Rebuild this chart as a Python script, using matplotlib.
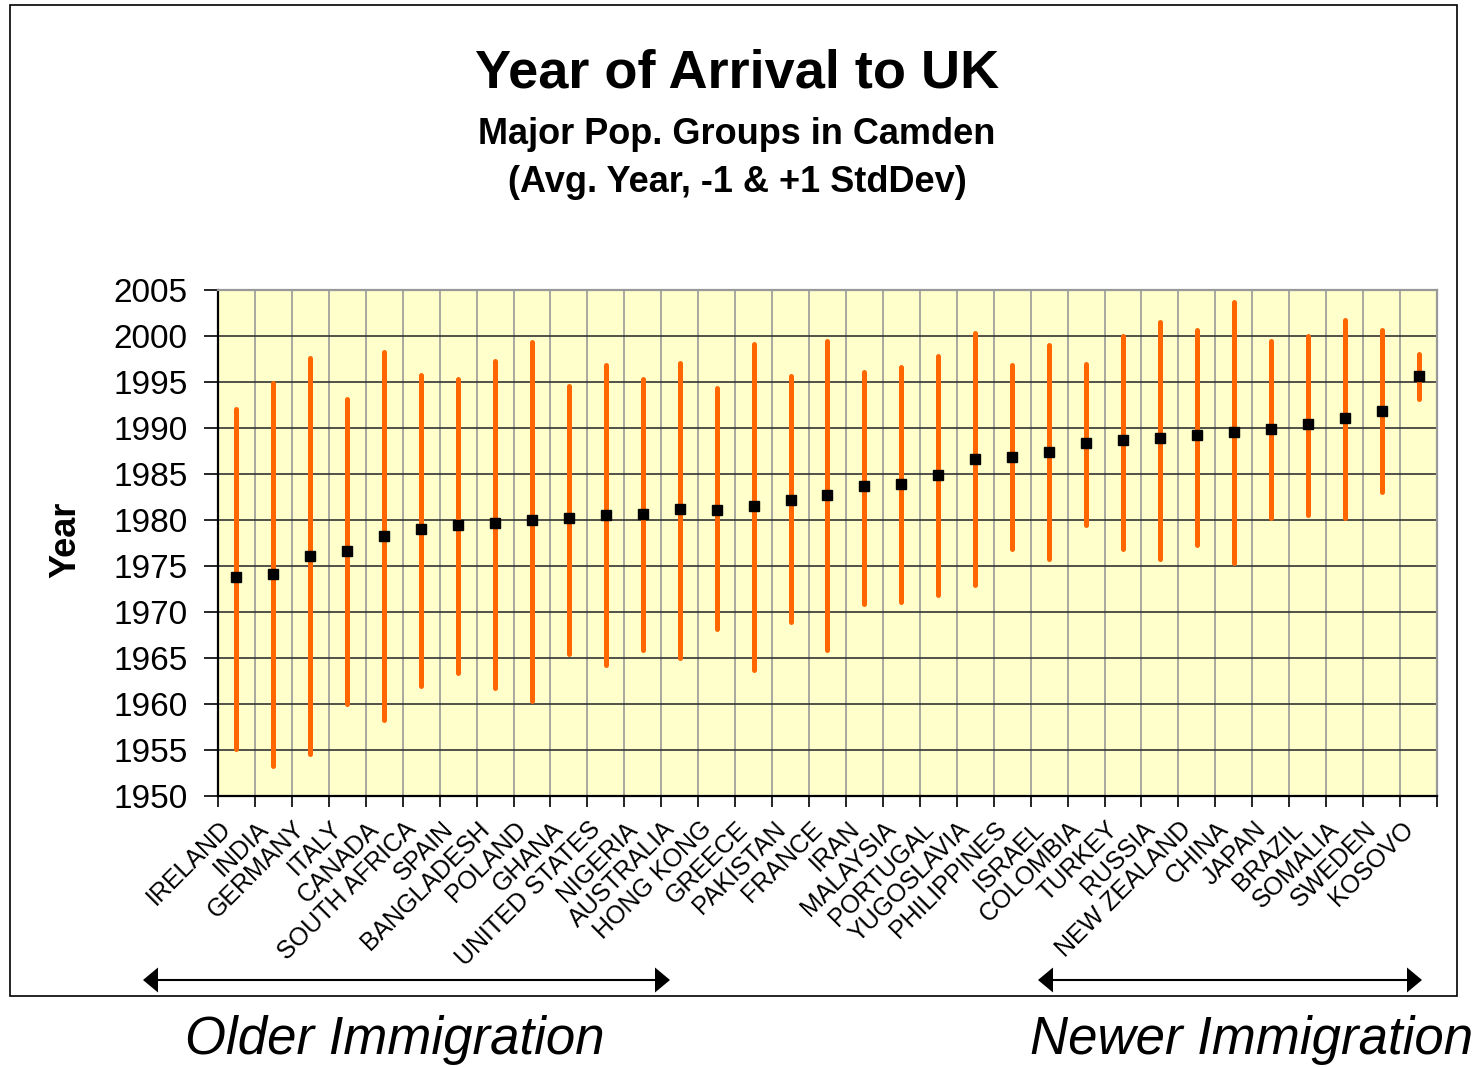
import matplotlib.pyplot as plt
from matplotlib.patches import Rectangle, Polygon
from matplotlib.lines import Line2D
from matplotlib.transforms import ScaledTranslation

plt.rcParams['font.family'] = ['Liberation Sans', 'DejaVu Sans']

countries = ['IRELAND', 'INDIA', 'GERMANY', 'ITALY', 'CANADA', 'SOUTH AFRICA',
             'SPAIN', 'BANGLADESH', 'POLAND', 'GHANA', 'UNITED STATES', 'NIGERIA',
             'AUSTRALIA', 'HONG KONG', 'GREECE', 'PAKISTAN', 'FRANCE', 'IRAN',
             'MALAYSIA', 'PORTUGAL', 'YUGOSLAVIA', 'PHILIPPINES', 'ISRAEL',
             'COLOMBIA', 'TURKEY', 'RUSSIA', 'NEW ZEALAND', 'CHINA', 'JAPAN',
             'BRAZIL', 'SOMALIA', 'SWEDEN', 'KOSOVO']

# average year of arrival
avg_year = [1973.8, 1974.1, 1976.1, 1976.6, 1978.3, 1979.0, 1979.5, 1979.7, 1980.0,
            1980.2, 1980.5, 1980.7, 1981.2, 1981.1, 1981.5, 1982.2, 1982.7, 1983.7,
            1983.9, 1984.9, 1986.6, 1986.9, 1987.4, 1988.4, 1988.7, 1988.9, 1989.2,
            1989.6, 1989.9, 1990.4, 1991.1, 1991.9, 1995.6]

# avg - 1 stddev
low_year = [1955.1, 1953.3, 1954.6, 1960.0, 1958.3, 1962.0, 1963.4, 1961.7, 1960.3,
            1965.4, 1964.2, 1965.9, 1965.0, 1968.2, 1963.7, 1968.9, 1965.9, 1970.9,
            1971.1, 1971.9, 1972.9, 1976.8, 1975.8, 1979.5, 1976.8, 1975.8, 1977.3,
            1975.3, 1980.2, 1980.5, 1980.2, 1983.0, 1993.2]

# avg + 1 stddev
high_year = [1992.1, 1994.9, 1997.6, 1993.1, 1998.3, 1995.8, 1995.3, 1997.3, 1999.3,
             1994.6, 1996.8, 1995.3, 1997.1, 1994.3, 1999.1, 1995.6, 1999.5, 1996.1,
             1996.6, 1997.8, 2000.3, 1996.8, 1999.0, 1997.0, 2000.0, 2001.5, 2000.7,
             2003.7, 1999.5, 2000.0, 2001.7, 2000.7, 1998.0]

W, H = 1479, 1067
fig = plt.figure(figsize=(W / 100, H / 100), dpi=100)
fig.patch.set_facecolor('white')


def fx(px):
    return px / W


def fy(py):
    return 1 - py / H


ax = fig.add_axes([fx(218), fy(796), (1437 - 218) / W, (796 - 290) / H])
ax.set_facecolor('#FFFFCC')

x = list(range(len(countries)))
ax.vlines(x, low_year, high_year, color='#FF6600', linewidth=3.6,
          capstyle='round', zorder=3)
ax.plot(x, avg_year, linestyle='none', marker='s', markersize=7,
        color='black', zorder=4)

ax.set_xlim(-0.5, len(countries) - 0.5)
ax.set_ylim(1950, 2005)
ax.set_yticks(range(1950, 2006, 5))
ax.tick_params(axis='y', labelsize=24, length=10, width=1.2, direction='out', pad=12)

ax.set_xticks(x)
ax.set_xticklabels(countries, rotation=45, ha='right', va='center',
                   rotation_mode='anchor', fontsize=18)
ax.set_xticks([i - 0.5 for i in range(len(countries) + 1)], minor=True)
ax.tick_params(axis='x', which='major', length=0, pad=21)
ax.tick_params(axis='x', which='minor', length=8, width=1.2, direction='out')
shift = ScaledTranslation(-9 / 100, 0, fig.dpi_scale_trans)
for lbl in ax.get_xticklabels():
    lbl.set_transform(lbl.get_transform() + shift)

ax.grid(axis='y', which='major', color='#333333', linewidth=1.2, zorder=1)
ax.grid(axis='x', which='minor', color='#999999', linewidth=1.2, zorder=1)
ax.set_axisbelow(True)

ax.spines['left'].set_color('black')
ax.spines['bottom'].set_color('black')
ax.spines['top'].set_color('#999999')
ax.spines['right'].set_color('#999999')
for s in ax.spines.values():
    s.set_linewidth(1.6)

ax.set_ylabel('Year', fontsize=26, fontweight='bold', va='center')
ax.yaxis.set_label_coords((66 - 218) / 1219, (796 - 540) / 506)

fig.text(fx(737), fy(73), 'Year of Arrival to UK', fontsize=39,
         fontweight='bold', ha='center', va='center')
fig.text(fx(737), fy(134), 'Major Pop. Groups in Camden', fontsize=26,
         fontweight='bold', ha='center', va='center')
fig.text(fx(737), fy(183), '(Avg. Year, -1 & +1 StdDev)', fontsize=26,
         fontweight='bold', ha='center', va='center')

# outer chart border
fig.add_artist(Rectangle((fx(10), fy(996)), (1457 - 10) / W, (996 - 5) / H,
                         transform=fig.transFigure, fill=False,
                         edgecolor='black', linewidth=1.2))

# immigration period arrows
ay = 980
for x0, x1 in [(143, 670), (1038, 1422)]:
    fig.add_artist(Line2D([fx(x0 + 10), fx(x1 - 10)], [fy(ay), fy(ay)],
                          transform=fig.transFigure, color='black', linewidth=1.5))
    fig.add_artist(Polygon([(fx(x0), fy(ay)), (fx(x0 + 15), fy(ay - 12.5)),
                            (fx(x0 + 15), fy(ay + 12.5))],
                           closed=True, transform=fig.transFigure,
                           facecolor='black', edgecolor='none'))
    fig.add_artist(Polygon([(fx(x1), fy(ay)), (fx(x1 - 15), fy(ay - 12.5)),
                            (fx(x1 - 15), fy(ay + 12.5))],
                           closed=True, transform=fig.transFigure,
                           facecolor='black', edgecolor='none'))

fig.text(fx(185), fy(1040), 'Older Immigration', fontsize=38,
         style='italic', ha='left', va='center')
fig.text(fx(1030), fy(1040), 'Newer Immigration', fontsize=38,
         style='italic', ha='left', va='center')

fig.savefig('out.png', dpi=100)
